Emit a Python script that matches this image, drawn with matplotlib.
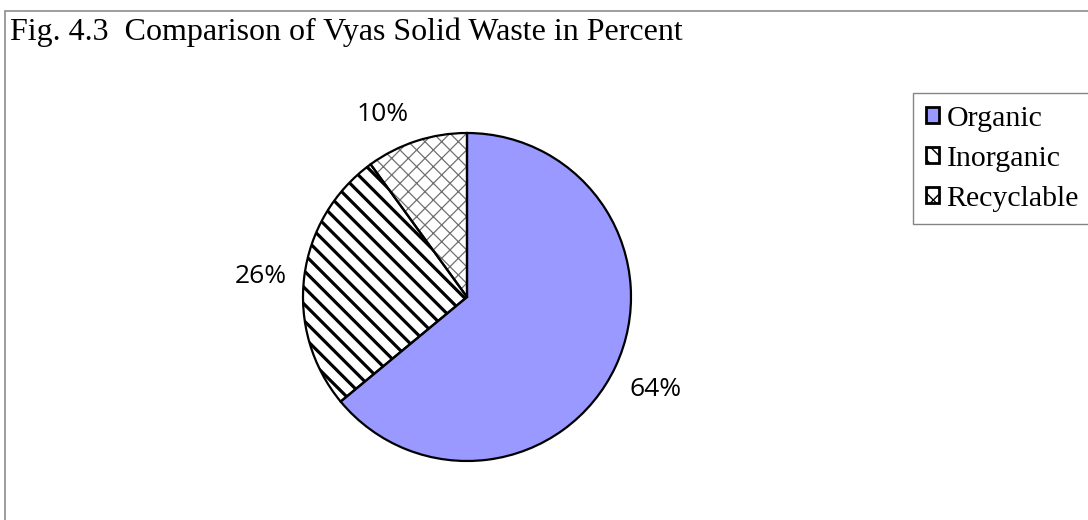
import math
import matplotlib
matplotlib.use('Agg')
import matplotlib.pyplot as plt
from matplotlib.patches import Rectangle

# data
categories = ['Organic', 'Inorganic', 'Recyclable']
shares = [64, 26, 10]
face_colors = ['#9999ff', 'white', 'white']
hatches = [None, '\\\\', 'xx']
hatch_colors = ['black', 'black', '#707070']
hatch_widths = [1.0, 2.3, 0.9]
label_nudge = [0, 0, 6]   # degrees, small slice label pushed off the edge line

fig = plt.figure(figsize=(10.88, 5.2), dpi=100)

# outer frame of the chart area
fig.patches.append(Rectangle((4.5 / 1088, -0.05), 1.1, (520 - 10.5) / 520 + 0.05,
                             transform=fig.transFigure, fill=False,
                             edgecolor='#8c8c8c', linewidth=1.2))

fig.text(10 / 1088, 1 - 40 / 520, 'Fig. 4.3  Comparison of Vyas Solid Waste in Percent',
         family='Liberation Serif', fontsize=23, ha='left', va='baseline')

ax = fig.add_axes([303 / 1088, 59 / 520, 328 / 1088, 328 / 520])

# hatched fill first, then black outlines on top
wedges, _ = ax.pie(shares, colors=face_colors, startangle=90, counterclock=False,
                   wedgeprops=dict(linewidth=0))
for w, h, hc, hw in zip(wedges, hatches, hatch_colors, hatch_widths):
    if h:
        w.set_hatch(h)
        w.set_edgecolor(hc)
        try:
            w.set_hatch_linewidth(hw)
        except AttributeError:
            pass

outline, _ = ax.pie(shares, startangle=90, counterclock=False,
                    wedgeprops=dict(fill=False, edgecolor='black', linewidth=1.6))

# percent labels outside the pie
total = sum(shares)
for w, v, nudge in zip(outline, shares, label_nudge):
    mid = math.radians((w.theta1 + w.theta2) / 2 + nudge)
    ax.text(1.27 * math.cos(mid), 1.25 * math.sin(mid) - 0.03, '%d%%' % round(100 * v / total),
            ha='center', va='center', family='Open Sans', fontsize=19, clip_on=False)

ax.set_xlim(-1, 1)
ax.set_ylim(-1, 1)
ax.set_aspect('equal')
ax.axis('off')

# legend handles: small swatches matching the wedges
handles = []
for fc, h, hc in zip(face_colors, hatches, hatch_colors):
    handles.append(Rectangle((0, 0), 1, 1, facecolor=fc, hatch=h,
                             edgecolor='black', linewidth=2))
leg = fig.legend(handles, categories, loc='upper left',
                 bbox_to_anchor=(913 / 1088, 1 - 93 / 520), borderaxespad=0,
                 prop=dict(family='Liberation Serif', size=21.5),
                 handlelength=0.45, handleheight=0.45, handletextpad=0.25,
                 labelspacing=0.47, borderpad=0.42, fancybox=False)
leg.get_frame().set_edgecolor('#666666')
leg.get_frame().set_linewidth(1.0)

fig.savefig('out.png', dpi=100)
